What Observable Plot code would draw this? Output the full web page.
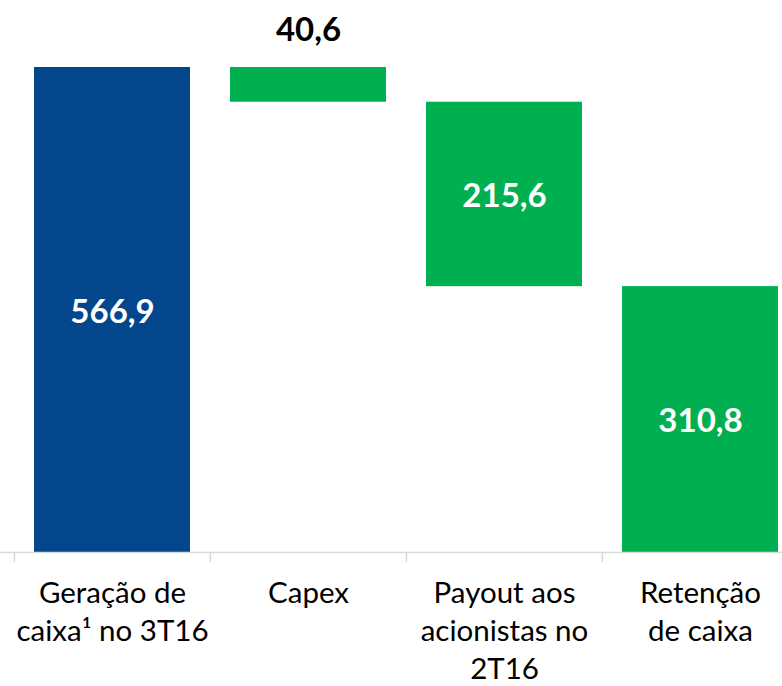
<!DOCTYPE html>
<html>
<head>
<meta charset="utf-8">
<script src="https://cdn.jsdelivr.net/npm/d3@7"></script>
<script src="https://cdn.jsdelivr.net/npm/@observablehq/plot@0.6"></script>
<style>
  html, body { margin: 0; padding: 0; background: #fff; }
  svg { display: block; }
</style>
</head>
<body>
<div id="chart"></div>
<script>
const categories = ["Geração de\ncaixa¹ no 3T16", "Capex", "Payout aos\nacionistas no\n2T16", "Retenção\nde caixa"];
const starts = [0, 566.9, 526.3, 0];
const ends = [566.9, 526.3, 310.7, 310.8];
const valueLabels = ["566,9", "40,6", "215,6", "310,8"];
const colors = ["#03468c", "#00b050", "#00b050", "#00b050"];
const labelInside = [true, false, true, true];

const data = categories.map((c, i) => ({
  cat: c, y1: starts[i], y2: ends[i], label: valueLabels[i], color: colors[i],
  inside: labelInside[i], mid: (starts[i] + ends[i]) / 2, top: Math.max(starts[i], ends[i])
}));

const W = 782, H = 686;
const xRange = [13, 798];
const step = (xRange[1] - xRange[0]) / categories.length;
const font = "Lato, 'Open Sans', sans-serif";

const chart = Plot.plot({
  width: W,
  height: H,
  margin: 0,
  style: { fontFamily: font, background: "#fff", overflow: "visible" },
  x: { domain: categories, range: xRange, padding: 0, axis: null },
  y: { domain: [0, 566.9], range: [552, 67], axis: null },
  marks: [
    Plot.barY(data, { x: "cat", y1: "y1", y2: "y2", fill: "color", insetLeft: 20, insetRight: 20 }),
    Plot.ruleY([0], { stroke: "#d9d9d9", strokeWidth: 1.5 }),
    Plot.ruleX(categories, { x: d => d, dx: -step / 2, y1: 0, y2: 0, insetBottom: -10, stroke: "#d9d9d9", strokeWidth: 1.5 }),
    Plot.text(data.filter(d => d.inside), { x: "cat", y: "mid", text: "label", fill: "#fff", fontSize: 33, fontWeight: "bold", dy: 2 }),
    Plot.text(data.filter(d => !d.inside), { x: "cat", y: "top", text: "label", fill: "#000", fontSize: 33, fontWeight: "bold", dy: -37 }),
    Plot.text(data, { x: "cat", y: 0, text: "cat", fill: "#000", fontSize: 29.5, lineHeight: 1.29, lineAnchor: "top", dy: 23 })
  ]
});
document.getElementById("chart").appendChild(chart);
</script>
</body>
</html>
